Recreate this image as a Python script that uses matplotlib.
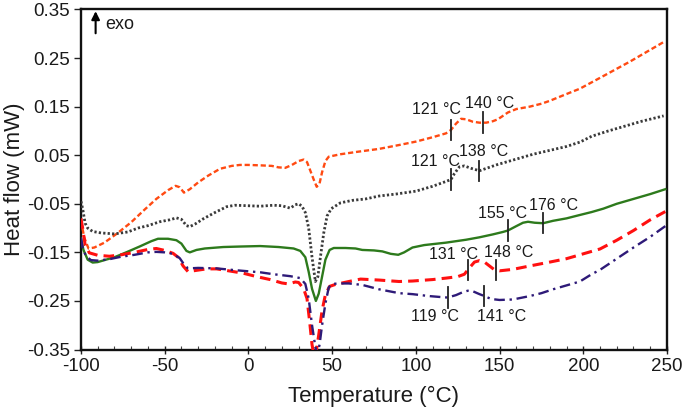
import numpy as np
import matplotlib
matplotlib.use("Agg")
import matplotlib.pyplot as plt
from matplotlib.ticker import FixedLocator, MultipleLocator, FormatStrFormatter

plt.rcParams['font.family'] = ['Liberation Sans', 'DejaVu Sans']
plt.rcParams['axes.unicode_minus'] = False

# ---------------- data ----------------
orange_T = [-100, -98, -95.5, -92, -86, -78, -70, -62, -55, -48, -43.5, -41, -38.5, -35, -30, -24, -17, -10, -5, 0, 8, 14, 18, 22, 26, 30, 33, 35, 37, 39, 40.8, 42.5, 44, 46, 48, 55, 65, 78, 90, 100, 110, 118, 121, 124, 127, 130, 134, 138, 142, 146, 149, 152, 155, 160, 168, 175, 180, 190, 198, 205, 212, 220, 228, 235, 242, 248]
orange_v = [-0.085, -0.120, -0.142, -0.140, -0.130, -0.110, -0.088, -0.062, -0.040, -0.022, -0.013, -0.016, -0.027, -0.020, -0.006, 0.008, 0.022, 0.028, 0.030, 0.030, 0.029, 0.028, 0.025, 0.024, 0.030, 0.038, 0.041, 0.036, 0.018, 0.000, -0.015, -0.008, 0.015, 0.038, 0.047, 0.052, 0.057, 0.063, 0.071, 0.078, 0.087, 0.095, 0.102, 0.115, 0.125, 0.124, 0.119, 0.117, 0.117, 0.120, 0.124, 0.131, 0.138, 0.145, 0.150, 0.156, 0.162, 0.176, 0.187, 0.200, 0.213, 0.228, 0.243, 0.257, 0.271, 0.283]

black_T = [-100, -99, -97.5, -96, -93, -88, -80, -72, -66, -60, -53, -47, -43, -40, -37, -35, -32, -27, -20, -13, -8, 0, 7, 15, 20, 25, 28, 30, 32, 34, 36, 38, 40, 41.5, 43, 45, 47, 49.5, 55, 62, 70, 78, 88, 100, 110, 118, 121, 123, 126, 129, 133, 138, 143, 148, 155, 162, 170, 180, 190, 198, 205, 215, 225, 235, 248]
black_v = [-0.045, -0.060, -0.090, -0.100, -0.107, -0.110, -0.112, -0.108, -0.100, -0.095, -0.087, -0.083, -0.079, -0.082, -0.095, -0.097, -0.092, -0.081, -0.068, -0.056, -0.053, -0.054, -0.055, -0.053, -0.054, -0.059, -0.052, -0.050, -0.055, -0.068, -0.100, -0.160, -0.210, -0.200, -0.160, -0.110, -0.075, -0.060, -0.048, -0.043, -0.040, -0.034, -0.030, -0.024, -0.014, -0.004, 0.000, 0.012, 0.026, 0.028, 0.023, 0.018, 0.024, 0.030, 0.037, 0.044, 0.052, 0.060, 0.068, 0.077, 0.089, 0.100, 0.110, 0.120, 0.131]

green_T = [-100, -98.5, -96, -93, -90, -86, -80, -73, -65, -58, -54, -48, -43, -40, -37, -35, -31, -26, -15, -5, 7, 18, 27, 31, 34, 36, 38, 40.3, 42, 44, 46, 48.5, 51, 58, 64, 68, 75, 80, 85, 89.5, 93, 98, 105, 118, 130, 138, 146, 152, 155, 160, 164, 167, 171, 176, 182, 190, 198, 205, 212, 220, 230, 240, 249]
green_v = [-0.122, -0.145, -0.165, -0.171, -0.170, -0.166, -0.160, -0.150, -0.138, -0.127, -0.122, -0.122, -0.125, -0.132, -0.147, -0.150, -0.145, -0.142, -0.139, -0.138, -0.137, -0.139, -0.142, -0.147, -0.160, -0.190, -0.225, -0.250, -0.235, -0.200, -0.165, -0.145, -0.141, -0.141, -0.142, -0.145, -0.146, -0.148, -0.153, -0.155, -0.150, -0.140, -0.135, -0.130, -0.124, -0.119, -0.113, -0.108, -0.105, -0.096, -0.089, -0.087, -0.089, -0.090, -0.085, -0.080, -0.073, -0.067, -0.060, -0.050, -0.040, -0.030, -0.020]

red_T = [-100, -99, -97.5, -95, -90, -83, -76, -68, -60, -55, -50, -45, -42, -39, -36, -33, -25, -19, -10, -3, 5, 13, 20, 24, 28, 30, 33, 35, 36.5, 38, 39.3, 40.5, 42, 44, 46, 48.5, 52, 60, 67, 78, 90, 98, 110, 118, 125, 129, 132, 135, 138, 141, 144, 147, 150, 158, 168, 180, 190, 198, 210, 220, 230, 240, 249]
red_v = [-0.080, -0.100, -0.135, -0.151, -0.156, -0.158, -0.155, -0.150, -0.144, -0.142, -0.146, -0.152, -0.160, -0.178, -0.190, -0.188, -0.184, -0.184, -0.189, -0.193, -0.200, -0.206, -0.213, -0.215, -0.211, -0.212, -0.225, -0.245, -0.290, -0.340, -0.365, -0.355, -0.320, -0.270, -0.237, -0.220, -0.216, -0.210, -0.205, -0.207, -0.210, -0.209, -0.206, -0.203, -0.200, -0.195, -0.182, -0.170, -0.167, -0.170, -0.178, -0.186, -0.188, -0.185, -0.178, -0.170, -0.163, -0.155, -0.143, -0.125, -0.105, -0.083, -0.066]

blue_T = [-100, -99, -97, -94, -90, -83, -76, -68, -60, -55, -50, -45, -41, -38, -36, -30, -19, -10, 0, 7, 15, 25, 31, 34, 36, 38, 40, 41.2, 42.5, 44, 46, 48, 50, 54, 60, 68, 78, 90, 98, 108, 115, 119, 124, 128, 131, 134, 138, 141, 145, 150, 158, 168, 175, 182, 190, 198, 205, 210, 220, 230, 240, 249]
blue_v = [-0.120, -0.140, -0.158, -0.166, -0.167, -0.164, -0.159, -0.155, -0.150, -0.149, -0.150, -0.153, -0.162, -0.177, -0.183, -0.182, -0.183, -0.186, -0.189, -0.191, -0.195, -0.199, -0.203, -0.215, -0.245, -0.300, -0.345, -0.360, -0.340, -0.300, -0.255, -0.222, -0.215, -0.214, -0.214, -0.217, -0.226, -0.234, -0.236, -0.240, -0.242, -0.243, -0.238, -0.232, -0.229, -0.230, -0.236, -0.240, -0.246, -0.248, -0.247, -0.240, -0.234, -0.226, -0.218, -0.210, -0.195, -0.186, -0.163, -0.140, -0.118, -0.096]

# annotation temperatures
orange_marks = [121, 140]
black_marks = [121, 138]
green_marks = [155, 176]
red_marks = [131, 148]
blue_marks = [119, 141]

x_ticks = [-100, -50, 0, 50, 100, 150, 200, 250]
y_ticks = [0.35, 0.25, 0.15, 0.05, -0.05, -0.15, -0.25, -0.35]

# ---------------- figure ----------------
fig = plt.figure(figsize=(6.85, 4.11), dpi=100)
ax = fig.add_axes([0.1182, 0.1496, 0.9737 - 0.1182, 0.9769 - 0.1496])

# label offsets in pixels (dx right, dy up)
series = [
    (orange_T, orange_v, dict(color='#FF4A12', lw=1.7, ls=(0, (2.2, 1.2))), orange_marks,
     [(-14, 20), (7, 19)]),
    (black_T, black_v, dict(color='#3a3a3a', lw=2.0, ls=(0, (0.8, 0.8))), black_marks,
     [(-15, 18), (4, 19)]),
    (green_T, green_v, dict(color='#2D7A1C', lw=1.7, ls='-'), green_marks,
     [(-5, 17), (10, 18)]),
    (red_T, red_v, dict(color='#FF1010', lw=2.2, ls=(0, (3.5, 2.0))), red_marks,
     [(-14, 16), (12, 18)]),
    (blue_T, blue_v, dict(color='#2E1A78', lw=1.7, ls=(0, (4.5, 2.0, 1.0, 2.0))), blue_marks,
     [(-13, -19), (17, -20)]),
]

for T, v, style, marks, offs in series:
    ax.plot(T, v, **style, zorder=3)

for T, v, style, marks, offs in series:
    for m, (dx, dy) in zip(marks, offs):
        yc = np.interp(m, T, v)
        ax.plot([m, m], [yc - 0.021, yc + 0.021], color='#222222', lw=1.3, zorder=4)
        ax.annotate(f"{m} °C", xy=(m, yc), xytext=(dx, dy), textcoords='offset pixels',
                    ha='center', va='center', fontsize=11.5, color='#1a1a1a')

ax.set_xlim(-100, 250)
ax.set_ylim(-0.35, 0.35)
ax.xaxis.set_major_locator(FixedLocator(x_ticks))
ax.xaxis.set_minor_locator(MultipleLocator(10))
ax.yaxis.set_major_locator(FixedLocator(y_ticks))
ax.yaxis.set_major_formatter(FormatStrFormatter('%.2f'))
ax.tick_params(axis='x', which='major', direction='inout', length=6, width=1.0,
               labelsize=13.5, pad=3, colors='#222222')
ax.tick_params(axis='x', which='minor', direction='in', length=3, width=0.8, colors='#444444')
ax.tick_params(axis='y', which='major', direction='out', length=5, width=1.0,
               labelsize=13.5, pad=3, colors='#222222')
for lab in ax.get_xticklabels() + ax.get_yticklabels():
    lab.set_color('#1a1a1a')

for s in ax.spines.values():
    s.set_linewidth(1.7)
    s.set_color('#111111')

ax.set_xlabel('Temperature (°C)', fontsize=16, labelpad=8, color='#1a1a1a')
ax.set_ylabel('Heat flow (mW)', fontsize=16, labelpad=1, color='#1a1a1a')

ax.annotate('', xy=(0.025, 0.995), xytext=(0.025, 0.93), xycoords='axes fraction',
            arrowprops=dict(arrowstyle='-|>', color='black', lw=1.5, mutation_scale=12,
                            shrinkA=0, shrinkB=0))
ax.text(0.041, 0.957, 'exo', transform=ax.transAxes, fontsize=13, ha='left', va='center',
        color='#1a1a1a')

fig.savefig('out.png', dpi=100)
